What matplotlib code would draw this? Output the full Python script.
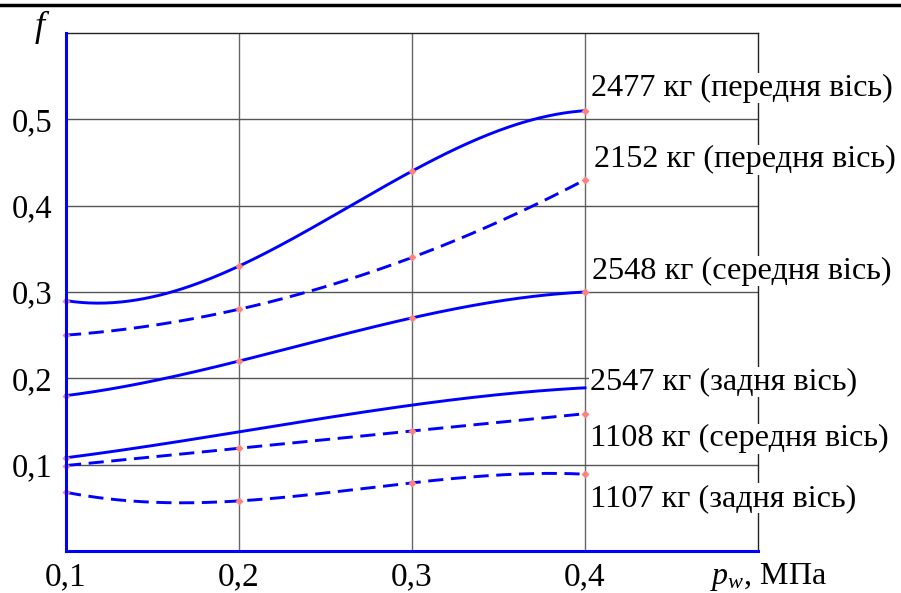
import numpy as np
import matplotlib
matplotlib.use("Agg")
import matplotlib.pyplot as plt

plt.rcParams['font.family'] = ['Liberation Serif', 'DejaVu Serif']
plt.rcParams['mathtext.fontset'] = 'custom'
plt.rcParams['mathtext.it'] = 'Liberation Serif:italic'
plt.rcParams['mathtext.rm'] = 'Liberation Serif'

# тиск у шинах, МПа
pw = [0.1, 0.2, 0.3, 0.4]

# коефіцієнт f для кожного навантаження
f_2477 = [0.29, 0.33, 0.44, 0.51]
f_2152 = [0.25, 0.28, 0.34, 0.43]
f_2548 = [0.18, 0.22, 0.27, 0.30]
f_2547 = [0.108, 0.138, 0.169, 0.189]
f_1108 = [0.099, 0.119, 0.139, 0.159]
f_1107 = [0.068, 0.058, 0.079, 0.089]

labels = ['2477 кг (передня вісь)', '2152 кг (передня вісь)', '2548 кг (середня вісь)',
          '2547 кг (задня вісь)', '1108 кг (середня вісь)', '1107 кг (задня вісь)']

xticks = [0.1, 0.2, 0.3, 0.4]
xticklabels = ['0,1', '0,2', '0,3', '0,4']
yticks = [0.1, 0.2, 0.3, 0.4, 0.5]
yticklabels = ['0,1', '0,2', '0,3', '0,4', '0,5']

# (дані, стиль, скільки точок позначено, позиція підпису)
series = [
    (f_2477, '-', 4, (0.4032, 0.536)),
    (f_2152, '--', 4, (0.4050, 0.453)),
    (f_2548, '-', 4, (0.4040, 0.324)),
    (f_2547, '-', 1, (0.4027, 0.196)),
    (f_1108, '--', 4, (0.4027, 0.130)),
    (f_1107, '--', 4, (0.4027, 0.061)),
]

fig = plt.figure(figsize=(9.01, 5.93), dpi=100)
ax = fig.add_axes([66/901, 1 - 551/593, (758 - 66)/901, (551 - 33)/593])

ax.set_xlim(0.1, 0.5)
ax.set_ylim(0, 0.6)

for xv in [0.2, 0.3, 0.4]:
    ax.axvline(xv, color='#666666', lw=1.0, zorder=1)
for yv in yticks:
    ax.axhline(yv, color='#555555', lw=1.0, zorder=1)

xs = np.linspace(0.1, 0.4, 200)
for (vals, ls, nmark, pos), lab in zip(series, labels):
    coef = np.polyfit(pw, vals, 3)
    line, = ax.plot(xs, np.polyval(coef, xs), color='#0000ff', lw=2.1, zorder=3, clip_on=False)
    if ls == '--':
        line.set_dashes((5.2, 2.6))
    ax.plot(pw[:nmark], vals[:nmark], 'D', color='#ff8080', ms=4.3, mec='none', zorder=4, clip_on=False)
    ax.text(pos[0], pos[1], lab, fontsize=23.2, ha='left', va='center', zorder=6,
            bbox=dict(facecolor='white', edgecolor='none', pad=0.5), clip_on=False)

ax.set_xticks(xticks)
ax.set_xticklabels(xticklabels, fontsize=24)
ax.set_yticks(yticks)
ax.set_yticklabels(yticklabels, fontsize=23.5)
ax.tick_params(length=0, pad=10)
ax.tick_params(axis='x', pad=8)

ax.spines['left'].set_color('#0000ff')
ax.spines['left'].set_linewidth(2.2)
ax.spines['bottom'].set_color('#0000ff')
ax.spines['bottom'].set_linewidth(2.2)
ax.spines['top'].set_color('#222222')
ax.spines['top'].set_linewidth(1.0)
ax.spines['right'].set_color('#222222')
ax.spines['right'].set_linewidth(1.0)
for s in ax.spines.values():
    s.set_zorder(2)
ax.spines['left'].set_zorder(5)
ax.spines['bottom'].set_zorder(5)

fig.text(42/901, 1 - 27/593, '$f$', fontsize=26, ha='center', va='center')
fig.text(710/901, 1 - 577/593, '$p_w$, МПа', fontsize=23, ha='left', va='center')

# верхня лінія сторінки
fig.add_artist(plt.Line2D([0, 1], [1 - 5/593, 1 - 5/593], color='black', lw=2.5,
                          transform=fig.transFigure))

fig.savefig('out.png', dpi=100)
